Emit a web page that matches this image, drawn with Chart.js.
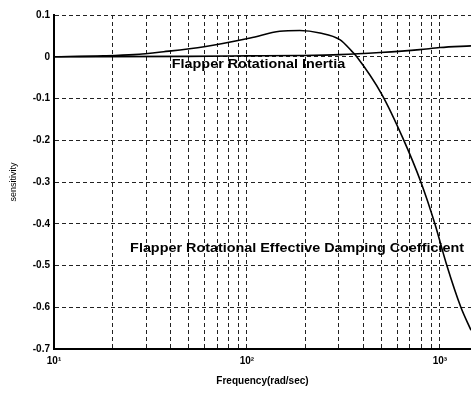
<!DOCTYPE html>
<html>
<head>
<meta charset="utf-8">
<script src="https://cdn.jsdelivr.net/npm/chart.js@4"></script>
<style>
  html, body { margin: 0; padding: 0; background: #fff; }
  #wrap { width: 471px; height: 393px; }
</style>
</head>
<body>
<div id="wrap"><canvas id="chart" width="471" height="393"></canvas></div>
<script>
// frequency (rad/sec) and sensitivity for each parameter
const dampingFreq = [10, 18, 26, 37, 60, 104, 148, 188, 239, 303, 350, 371, 500, 643, 797, 942, 1087, 1285, 1450];
const dampingSens = [0.0, 0.002, 0.005, 0.012, 0.024, 0.045, 0.061, 0.063, 0.057, 0.041, 0.013, 0.0, -0.09, -0.195, -0.30, -0.40, -0.50, -0.60, -0.655];

const inertiaFreq = [10, 50, 100, 188, 303, 489, 787, 1000, 1450];
const inertiaSens = [0.0, 0.001, 0.002, 0.003, 0.005, 0.010, 0.017, 0.022, 0.026];

const yTicks = [0.1, 0, -0.1, -0.2, -0.3, -0.4, -0.5, -0.6, -0.7];
const xLabels = { 10: '10\u00b9', 100: '10\u00b2', 1000: '10\u00b3' };

const curveLabels = [
  { text: 'Flapper Rotational Inertia', f: 40.8, v: -0.018 },
  { text: 'Flapper Rotational Effective Damping Coefficient', f: 24.8, v: -0.46 }
];

const pairs = (xs, ys) => xs.map((x, i) => ({ x: x, y: ys[i] }));

// curve names written inside the plot, slightly stretched sideways
const curveText = {
  id: 'curveText',
  afterDatasetsDraw(chart) {
    const { ctx, scales: { x, y } } = chart;
    ctx.save();
    ctx.font = 'bold 12.5px "Liberation Sans", Arial, sans-serif';
    ctx.fillStyle = '#000';
    ctx.textBaseline = 'middle';
    ctx.textAlign = 'left';
    curveLabels.forEach(l => {
      const px = x.getPixelForValue(l.f);
      const py = y.getPixelForValue(l.v);
      ctx.save();
      ctx.translate(px, py);
      ctx.scale(1.15, 1);
      ctx.fillText(l.text, 0, 0);
      ctx.restore();
    });
    ctx.restore();
  }
};

const line = {
  borderColor: '#000',
  borderWidth: 1.6,
  pointRadius: 0,
  fill: false,
  cubicInterpolationMode: 'monotone'
};

new Chart(document.getElementById('chart'), {
  type: 'line',
  data: {
    datasets: [
      Object.assign({ label: 'Flapper Rotational Effective Damping Coefficient', data: pairs(dampingFreq, dampingSens) }, line),
      Object.assign({ label: 'Flapper Rotational Inertia', data: pairs(inertiaFreq, inertiaSens) }, line)
    ]
  },
  options: {
    responsive: false,
    animation: false,
    layout: { padding: { top: 15, right: 0, left: 0, bottom: 0 } },
    plugins: { legend: { display: false }, tooltip: { enabled: false } },
    scales: {
      x: {
        type: 'logarithmic',
        min: 10,
        max: 1450,
        afterFit: s => { s.height = 44; },
        afterBuildTicks: s => {
          const t = [];
          for (const d of [10, 100]) {
            for (let k = 1; k < 10; k++) t.push({ value: d * k });
          }
          t.push({ value: 1000 });
          s.ticks = t;
        },
        ticks: {
          autoSkip: false,
          maxRotation: 0,
          padding: 6,
          color: '#000',
          font: { family: '"Liberation Sans", Arial', size: 10, weight: 'bold' },
          callback: v => xLabels[v] || ''
        },
        grid: { color: '#222', lineWidth: 1, drawTicks: false },
        border: { display: true, color: '#000', width: 2, dash: [4, 3] },
        title: {
          display: true,
          text: 'Frequency(rad/sec)',
          color: '#000',
          padding: { top: 0, bottom: 6 },
          font: { family: '"Liberation Sans", Arial', size: 10, weight: 'bold' }
        }
      },
      y: {
        min: -0.7,
        max: 0.1,
        afterFit: s => { s.width = 54; },
        afterBuildTicks: s => { s.ticks = yTicks.map(v => ({ value: v })); },
        ticks: {
          padding: 4,
          color: '#000',
          font: { family: '"Liberation Sans", Arial', size: 10, weight: 'bold' },
          callback: v => String(Math.round(v * 10) / 10)
        },
        grid: { color: '#222', lineWidth: 1, drawTicks: false },
        border: { display: true, color: '#000', width: 2, dash: [4, 3] },
        title: {
          display: true,
          text: 'sensitivity',
          color: '#000',
          padding: { top: 8, bottom: 0 },
          font: { family: '"Liberation Sans", Arial', size: 9 }
        }
      }
    }
  },
  plugins: [curveText]
});
</script>
</body>
</html>
